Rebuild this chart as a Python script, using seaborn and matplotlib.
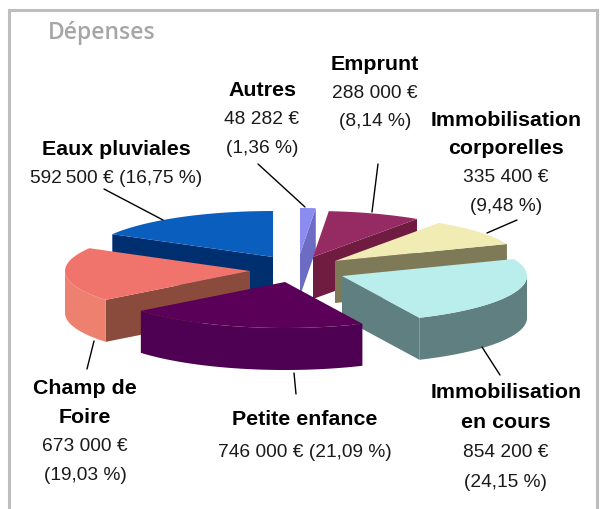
import numpy as np
import matplotlib
matplotlib.use('Agg')
import matplotlib.pyplot as plt
from matplotlib.patches import Polygon
import seaborn as sns

# Chart data, clockwise from the top
categories = ['Autres', 'Emprunt', 'Immobilisation\ncorporelles', 'Immobilisation\nen cours',
              'Petite enfance', 'Champ de\nFoire', 'Eaux pluviales']
percents = [1.36, 8.14, 9.48, 24.15, 21.09, 19.03, 16.75]
amounts = ['48 282 €\n(1,36 %)', '288 000 €\n(8,14 %)', '335 400 €\n(9,48 %)', '854 200 €\n(24,15 %)',
           '746 000 € (21,09 %)', '673 000 €\n(19,03 %)', '592\u2009500 € (16,75 %)']

# Colours: top face, outer wall, cut face
top_colors = sns.color_palette(['#8c8cf0', '#962a62', '#f0ecb4', '#b9eeec', '#5a0058', '#f0736c', '#0a5fbe'])
wall_colors = sns.color_palette(['#6c6cc4', '#701c40', '#7e7a58', '#5f7f80', '#4e0052', '#ee8070', '#002f70'])
cut_colors = sns.color_palette(['#6c6cc4', '#701c40', '#7e7a58', '#5f7f80', '#4e0052', '#8a4a3c', '#002f70'])

# Layout, in pixels
apex = [(300, 255), (313, 258), (335, 262), (342, 277), (285, 283), (250, 272), (273, 258)]
draw_order = [0, 6, 1, 2, 5, 3, 4]
rx, ry, depth = 185, 46, 42
label_x = [262, 375, 506, 506, 305, 85, 116]
label_y = [91, 65, 120, 393, 420, 389, 150]
line_step = [29, 28, 29, 30, 33, 29, 29]
leaders = [((258, 165), (305, 208)), ((378, 165), (372, 213)), ((517, 221), (487, 234)),
           ((482, 348), (500, 376)), ((294, 374), (296, 395)), ((94, 342), (87, 370)),
           ((104, 190), (163, 221))]

sns.set_theme(style='white')
plt.rcParams['font.family'] = ['Liberation Sans', 'DejaVu Sans']

fig = plt.figure(figsize=(6.03, 5.10), dpi=100)
ax = fig.add_axes([0, 0, 1, 1])
ax.set_xlim(0, 603)
ax.set_ylim(510, 0)
ax.axis('off')

# Frame, open at the bottom
ax.plot([8.5, 8.5, 596.5, 596.5], [510, 10.5, 10.5, 510], color='#bdbdbd', lw=2.2, solid_joinstyle='miter')
ax.text(48, 33, 'Dépenses', color='#a6a6a6', fontsize=16.5, fontweight='semibold', family='Open Sans', va='center')

# Slice angles come from the percentages
angles = np.cumsum([0] + percents) / sum(percents) * 2 * np.pi


def rim(i, t):
    return apex[i][0] + rx * np.sin(t), apex[i][1] - ry * np.cos(t)


for i in draw_order:
    t0, t1 = angles[i], angles[i + 1]
    ts = np.linspace(t0, t1, 80)
    x, y = rim(i, ts)
    ax_x, ax_y = apex[i]

    # cut faces, only those turned to the viewer
    if np.sin(t0) < 0:
        q = [(ax_x, ax_y), (x[0], y[0]), (x[0], y[0] + depth), (ax_x, ax_y + depth)]
        ax.add_patch(Polygon(q, fc=cut_colors[i], ec='none'))
    if np.sin(t1) > 0:
        q = [(ax_x, ax_y), (x[-1], y[-1]), (x[-1], y[-1] + depth), (ax_x, ax_y + depth)]
        ax.add_patch(Polygon(q, fc=cut_colors[i], ec='none'))

    # outer wall on the front half of the ellipse
    lo, hi = max(t0, np.pi / 2), min(t1, 3 * np.pi / 2)
    if hi > lo:
        ws = np.linspace(lo, hi, 80)
        wx, wy = rim(i, ws)
        pts = list(zip(wx, wy)) + list(zip(wx[::-1], wy[::-1] + depth))
        ax.add_patch(Polygon(pts, fc=wall_colors[i], ec='none'))

    # top face
    pts = [(ax_x, ax_y)] + list(zip(x, y))
    ax.add_patch(Polygon(pts, fc=top_colors[i], ec='none'))

for a, b in leaders:
    ax.plot([a[0], b[0]], [a[1], b[1]], color='black', lw=1.0)

for i, name in enumerate(categories):
    yy = label_y[i]
    for part in name.split('\n'):
        ax.text(label_x[i], yy, part, ha='center', va='center', fontsize=15.4, fontweight='bold', color='black')
        yy += line_step[i]
    for part in amounts[i].split('\n'):
        ax.text(label_x[i], yy, part, ha='center', va='center', fontsize=13.8, color='#1a1a1a')
        yy += line_step[i]

fig.savefig('out.png', dpi=100)
